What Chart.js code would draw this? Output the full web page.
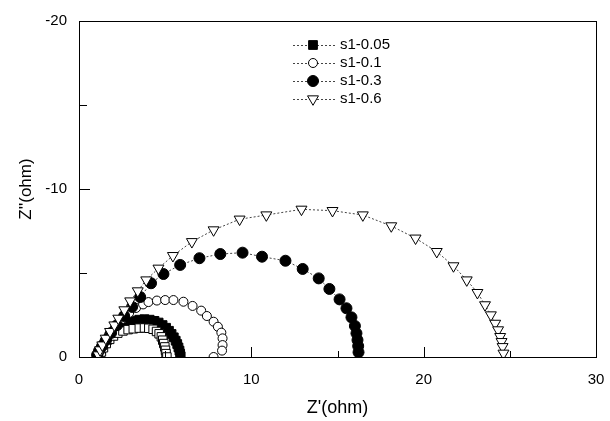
<!DOCTYPE html>
<html>
<head>
<meta charset="utf-8">
<script src="https://cdn.jsdelivr.net/npm/chart.js@4"></script>
<style>
body { margin: 0; background: #fff; }
</style>
</head>
<body>
<canvas id="myChart" width="610" height="421"></canvas>
<script>
// s1-0.05 (filled squares)
var x005 = [1.15, 1.2, 1.28, 1.38, 1.5, 1.63, 1.78, 1.95, 2.15, 2.38, 2.62, 2.9, 3.2, 3.5, 3.8, 4.1, 4.38, 4.62, 4.85, 5.05, 5.22, 5.37, 5.5, 5.61, 5.7, 5.77, 5.83, 5.87, 5.9];
var y005 = [-0.05, -0.22, -0.42, -0.62, -0.82, -1.02, -1.22, -1.42, -1.6, -1.77, -1.92, -2.06, -2.16, -2.22, -2.25, -2.22, -2.15, -2.05, -1.9, -1.74, -1.56, -1.37, -1.17, -0.97, -0.77, -0.57, -0.38, -0.2, -0.05];
// unlabelled open squares
var xOpenSq = [1.2, 1.3, 1.42, 1.58, 1.78, 2.0, 2.25, 2.55, 2.85, 3.15, 3.5, 3.8, 4.05, 4.3, 4.5, 4.65, 4.78, 4.86, 4.92, 4.98, 5.02, 5.05, 5.1];
var yOpenSq = [-0.05, -0.3, -0.55, -0.8, -1.05, -1.25, -1.42, -1.55, -1.63, -1.68, -1.72, -1.73, -1.71, -1.65, -1.52, -1.38, -1.2, -1.0, -0.8, -0.6, -0.4, -0.2, 0];
// s1-0.1 (open circles)
var x01 = [1.05, 1.22, 1.45, 1.74, 2.09, 2.5, 2.91, 3.31, 3.72, 4.03, 4.52, 5.0, 5.48, 6.06, 6.59, 7.09, 7.42, 7.81, 8.06, 8.26, 8.33, 8.33, 8.3, 7.81];
var y01 = [-0.06, -0.48, -0.89, -1.31, -1.79, -2.26, -2.62, -2.92, -3.13, -3.27, -3.36, -3.39, -3.39, -3.29, -3.04, -2.76, -2.44, -2.1, -1.8, -1.45, -1.11, -0.71, -0.38, 0];
// s1-0.3 (filled circles)
var x03 = [1.05, 1.16, 1.34, 1.57, 1.86, 2.21, 2.62, 3.08, 3.55, 4.18, 4.9, 5.87, 6.99, 8.2, 9.49, 10.62, 11.98, 12.98, 13.91, 14.53, 15.12, 15.52, 15.81, 16.01, 16.1, 16.16, 16.2, 16.22];
var y03 = [-0.12, -0.36, -0.65, -1.01, -1.43, -1.9, -2.44, -2.98, -3.57, -4.39, -4.94, -5.48, -5.88, -6.13, -6.21, -5.97, -5.73, -5.24, -4.68, -4.05, -3.43, -2.9, -2.36, -1.85, -1.41, -1.01, -0.65, -0.28];
// s1-0.6 (open down triangles)
var x06 = [1.12, 1.22, 1.35, 1.55, 1.8, 2.05, 2.28, 2.63, 2.97, 3.41, 3.9, 4.61, 5.45, 6.55, 7.81, 9.32, 10.87, 12.91, 14.71, 16.47, 18.12, 19.53, 20.76, 21.73, 22.5, 23.12, 23.56, 23.9, 24.15, 24.32, 24.44, 24.52, 24.58, 24.63];
var y06 = [-0.12, -0.42, -0.71, -1.11, -1.51, -1.9, -2.3, -2.8, -3.33, -3.93, -4.58, -5.28, -6.03, -6.86, -7.56, -8.2, -8.45, -8.79, -8.71, -8.45, -7.8, -7.07, -6.27, -5.42, -4.58, -3.83, -3.1, -2.5, -2.0, -1.61, -1.21, -0.91, -0.61, -0.22];

var xMajor = [0, 10, 20, 30];
var xMinor = [5, 15, 25];
var yMajor = [-20, -10, 0];
var yMinor = [-15, -5];

var FONT = "'Liberation Sans', Arial, sans-serif";

function pts(xs, ys) {
    return xs.map(function (v, i) { return {x: v, y: ys[i]}; });
}

function series(label, xs, ys, style, fill, radius, order) {
    return {
        label: label,
        data: pts(xs, ys),
        showLine: true,
        borderColor: '#444',
        borderWidth: 1,
        borderDash: [2, 2],
        pointStyle: style,
        pointRotation: style === 'triangle' ? 180 : 0,
        pointRadius: radius,
        pointBackgroundColor: fill,
        pointBorderColor: '#000',
        pointBorderWidth: 1,
        order: order
    };
}

function marker(ctx, ds, x, y) {
    var r = ds.pointRadius;
    ctx.beginPath();
    if (ds.pointStyle === 'circle') {
        ctx.arc(x, y, r, 0, Math.PI * 2);
    } else if (ds.pointStyle === 'rect') {
        var s = r * Math.SQRT1_2;
        ctx.rect(x - s, y - s, 2 * s, 2 * s);
    } else {
        ctx.moveTo(x, y + r);
        ctx.lineTo(x - r * 0.866, y - r * 0.5);
        ctx.lineTo(x + r * 0.866, y - r * 0.5);
        ctx.closePath();
    }
    ctx.fillStyle = ds.pointBackgroundColor;
    ctx.fill();
    ctx.setLineDash([]);
    ctx.strokeStyle = '#000';
    ctx.stroke();
}

var decor = {
    id: 'decor',
    afterDraw: function (chart) {
        var ctx = chart.ctx, a = chart.chartArea;
        var sx = chart.scales.x, sy = chart.scales.y;
        ctx.save();
        ctx.strokeStyle = '#000';
        ctx.lineWidth = 1;
        ctx.setLineDash([]);
        ctx.strokeRect(Math.round(a.left) + 0.5, Math.round(a.top) + 0.5,
            Math.round(a.right - a.left), Math.round(a.bottom - a.top));
        ctx.beginPath();
        xMajor.forEach(function (v) {
            var p = Math.round(sx.getPixelForValue(v)) + 0.5;
            ctx.moveTo(p, a.bottom); ctx.lineTo(p, a.bottom - 10);
        });
        xMinor.forEach(function (v) {
            var p = Math.round(sx.getPixelForValue(v)) + 0.5;
            ctx.moveTo(p, a.bottom); ctx.lineTo(p, a.bottom - 6);
        });
        yMajor.forEach(function (v) {
            var p = Math.round(sy.getPixelForValue(v)) + 0.5;
            ctx.moveTo(a.left, p); ctx.lineTo(a.left + 11, p);
        });
        yMinor.forEach(function (v) {
            var p = Math.round(sy.getPixelForValue(v)) + 0.5;
            ctx.moveTo(a.left, p); ctx.lineTo(a.left + 8, p);
        });
        ctx.stroke();

        // legend
        var items = chart.data.datasets.filter(function (d) { return d.label; });
        ctx.font = '15px ' + FONT;
        ctx.textBaseline = 'middle';
        ctx.fillStyle = '#000';
        items.forEach(function (ds, i) {
            var y = 45 + i * 18;
            ctx.beginPath();
            ctx.setLineDash([2, 2]);
            ctx.strokeStyle = '#444';
            ctx.moveTo(293, y + 0.5); ctx.lineTo(337, y + 0.5);
            ctx.stroke();
            marker(ctx, ds, 313, y);
            ctx.fillStyle = '#000';
            ctx.fillText(ds.label, 340, y);
        });
        ctx.restore();
    }
};

var ctx = document.getElementById('myChart').getContext('2d');
new Chart(ctx, {
    type: 'scatter',
    data: {
        datasets: [
            series('s1-0.05', x005, y005, 'rect', '#000', 6.2, 5),
            series('s1-0.1', x01, y01, 'circle', '#fff', 4.5, 3),
            series('s1-0.3', x03, y03, 'circle', '#000', 5.5, 2),
            series('s1-0.6', x06, y06, 'triangle', '#fff', 6.3, 1),
            series('', xOpenSq, yOpenSq, 'rect', '#fff', 6.0, 4)
        ]
    },
    options: {
        responsive: false,
        animation: false,
        events: [],
        layout: { padding: { top: 21, right: 14, left: 0, bottom: 0 } },
        plugins: { legend: { display: false }, tooltip: { enabled: false } },
        scales: {
            x: {
                type: 'linear', min: 0, max: 30,
                grid: { display: false, drawTicks: false },
                border: { display: false },
                ticks: { stepSize: 10, color: '#000', padding: 14, maxRotation: 0, font: { family: FONT, size: 15 } },
                title: { display: true, text: "Z'(ohm)", color: '#000', padding: { top: 0, bottom: 2 }, font: { family: FONT, size: 18 } },
                afterFit: function (s) { s.height = 64; s.paddingLeft = 0; s.paddingRight = 0; }
            },
            y: {
                type: 'linear', min: -20, max: 0, reverse: true,
                grid: { display: false, drawTicks: false },
                border: { display: false },
                ticks: { stepSize: 10, color: '#000', padding: 12, font: { family: FONT, size: 15 } },
                title: { display: true, text: "Z''(ohm)", color: '#000', padding: { top: 16, bottom: 0 }, font: { family: FONT, size: 17 } },
                afterFit: function (s) { s.width = 79; s.paddingTop = 0; s.paddingBottom = 0; }
            }
        }
    },
    plugins: [decor]
});
</script>
</body>
</html>
